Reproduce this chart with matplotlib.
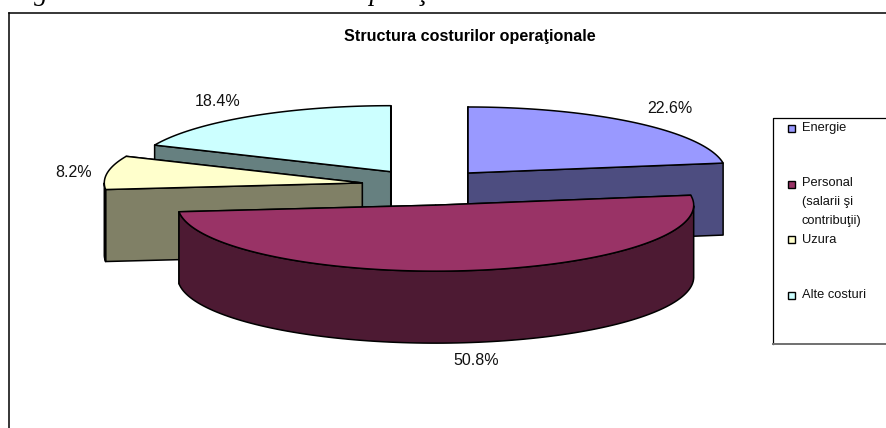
import numpy as np
import matplotlib
matplotlib.use("Agg")
import matplotlib.pyplot as plt
from matplotlib.patches import Polygon, Rectangle

W, H = 887, 428

# Chart data
categories = ["Energie", "Personal\n(salarii şi\ncontribuţii)", "Uzura", "Alte costuri"]
shares = [22.6, 50.8, 8.2, 18.4]
explode = [0.25, 0.30, 0.25, 0.25]

top_colors = ["#9999FF", "#993366", "#FFFFCC", "#CCFFFF"]
wall_colors = ["#4D4D80", "#4D1A33", "#808066", "#668080"]

# Pie projection, in pixels
CX, CY = 426, 185.5
RX, RY = 258, 66
DEPTH = 72

label_pos = [(670, 108), (476, 360.5), (74, 172.5), (218, 101)]
legend_y = [128.5, 184, 239.5, 295.5]
draw_order = [3, 0, 2, 1]  # back to front

plt.rcParams["font.family"] = ["Liberation Sans", "DejaVu Sans"]

fig = plt.figure(figsize=(W / 100, H / 100), dpi=100)
ax = fig.add_axes([0, 0, 1, 1])
ax.set_xlim(0, W)
ax.set_ylim(H, 0)
ax.axis("off")

# chart frame runs off the right and bottom of the crop
ax.plot([9, 9], [H, 13], color="black", lw=1.1)
ax.plot([9, W], [13, 13], color="black", lw=1.1)

# caption above the chart, cropped by the top edge in the reference too
ax.text(10, 0, "Figura 5 – Structura costurilor operaţionale – 2004", family="Liberation Serif",
        style="italic", fontsize=19.5, ha="left", va="baseline", color="black", clip_on=False)
ax.text(470, 36, "Structura costurilor operaţionale", fontsize=11.6, fontweight="bold",
        ha="center", va="center")


def point(cx, cy, deg, drop=0):
    a = np.radians(deg)
    return cx + RX * np.cos(a), cy - RY * np.sin(a) + drop


def add_poly(pts, color):
    ax.add_patch(Polygon(pts, closed=True, facecolor=color, edgecolor="black", lw=1.1, joinstyle="round"))


# clockwise from 12 o'clock
edges = 90 - np.cumsum([0] + shares) * 3.6

for i in draw_order:
    start, end = edges[i], edges[i + 1]
    mid = np.radians((start + end) / 2)
    cx = CX + explode[i] * RX * np.cos(mid)
    cy = CY - explode[i] * RY * np.sin(mid)
    angles = np.linspace(start, end, 120)

    # radial walls, the one further back first
    walls = sorted([start, end], key=lambda d: point(cx, cy, d)[1])
    for deg in walls:
        p = point(cx, cy, deg)
        add_poly([(cx, cy), p, (p[0], p[1] + DEPTH), (cx, cy + DEPTH)], wall_colors[i])

    # outer wall, only the part facing the viewer
    front = angles[np.sin(np.radians(angles)) <= 0]
    if len(front) > 1:
        upper = [point(cx, cy, d) for d in front]
        lower = [point(cx, cy, d, DEPTH) for d in front[::-1]]
        add_poly(upper + lower, wall_colors[i])

    add_poly([(cx, cy)] + [point(cx, cy, d) for d in angles], top_colors[i])

for share, (x, y) in zip(shares, label_pos):
    ax.text(x, y, f"{share:.1f}%", fontsize=11.5, ha="center", va="center", color="#111111")

# legend box, open on the right like the frame
ax.plot([773, 773, W], [344, 118, 118], color="black", lw=0.9)
ax.plot([773, W], [344, 344], color="#707070", lw=1.4)
for name, color, y in zip(categories, top_colors, legend_y):
    ax.add_patch(Rectangle((788.5, y - 3.5), 7, 7, facecolor=color, edgecolor="black", lw=1.0))
    if "\n" in name:
        ax.text(802, y - 7, name, fontsize=9.3, ha="left", va="top", linespacing=1.8, color="#111111")
    else:
        ax.text(802, y, name, fontsize=9.3, ha="left", va="center", color="#111111")

fig.savefig("out.png", dpi=100, facecolor="white")
